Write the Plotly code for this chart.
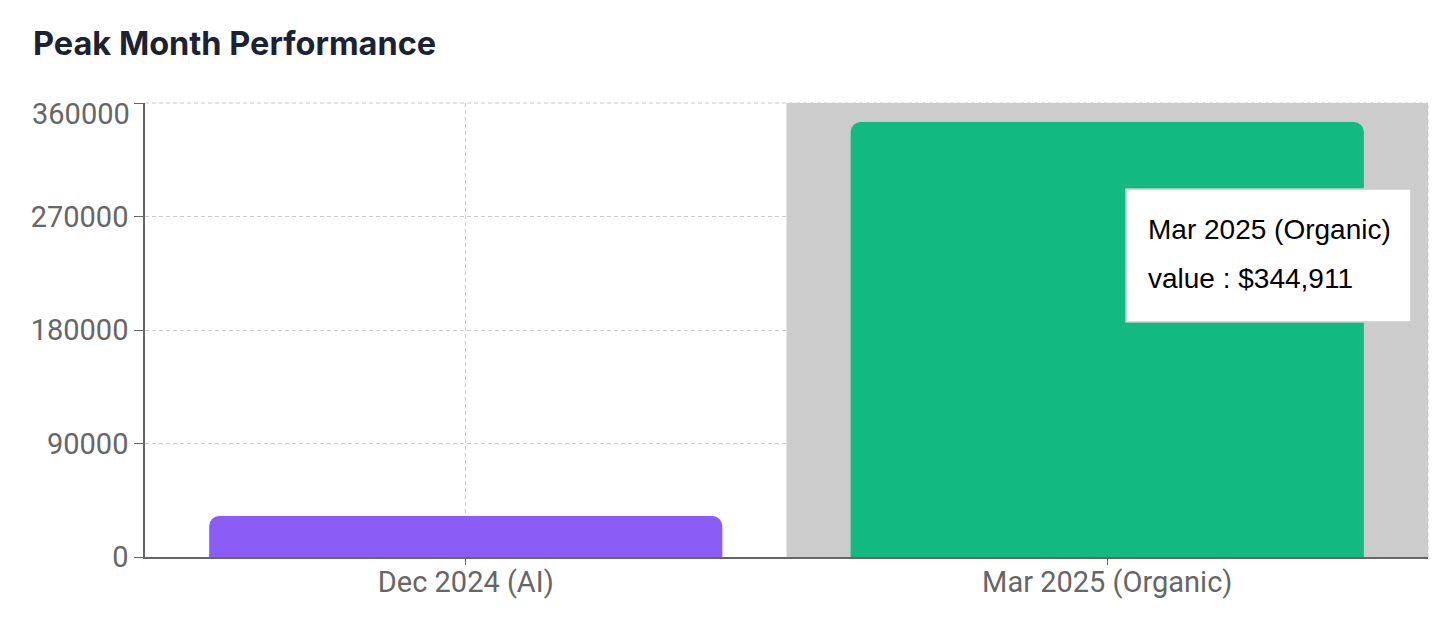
import plotly.graph_objects as go

categories = ["Dec 2024 (AI)", "Mar 2025 (Organic)"]
values = [32500, 344911]
bar_colors = ["#8b5cf6", "#12b981"]
y_ticks = [0, 90000, 180000, 270000, 360000]
title_text = "Peak Month Performance"
highlight_index = 1

# page body has an 8px margin, so the figure is sized to fit 1456x639 exactly
FIG_W, FIG_H = 1440, 623

fig = go.Figure()
fig.add_trace(go.Bar(
    x=categories, y=values,
    marker=dict(color=bar_colors, cornerradius=10, line=dict(width=0)),
    hoverinfo="skip",
))

# hover cursor band behind the highlighted category
fig.add_shape(type="rect", xref="x", yref="y",
              x0=highlight_index - 0.5, x1=highlight_index + 0.5,
              y0=0, y1=y_ticks[-1],
              fillcolor="#cccccc", line=dict(width=0), layer="between")
# dashed top/right border lines
fig.add_shape(type="line", xref="paper", yref="paper", x0=0, x1=1, y0=1, y1=1,
              line=dict(color="#cccccc", width=1, dash="4px,3px"), layer="above")
fig.add_shape(type="line", xref="paper", yref="paper", x0=1, x1=1, y0=0, y1=1,
              line=dict(color="#cccccc", width=1, dash="4px,3px"), layer="above")

# tooltip box
fig.add_shape(type="rect", xref="paper", yref="paper",
              x0=0.7646, x1=0.9867, y0=0.5176, y1=0.8106,
              fillcolor="white", line=dict(color="#cccccc", width=1.5), layer="above")
fig.add_annotation(xref="paper", yref="paper", x=0.7802, y=0.7203,
                   xanchor="left", yanchor="middle", showarrow=False,
                   text=categories[highlight_index],
                   font=dict(family="Liberation Sans, Arial", size=28, color="#000000"))
fig.add_annotation(xref="paper", yref="paper", x=0.7802, y=0.6145,
                   xanchor="left", yanchor="middle", showarrow=False,
                   text=f"value : ${values[highlight_index]:,}",
                   font=dict(family="Liberation Sans, Arial", size=28, color="#000000"))

# top tick label is nudged down inside the chart (as in the reference)
tick_text = [str(v) for v in y_ticks]
top_label = tick_text[-1]
tick_text[-1] = ""
fig.add_annotation(xref="paper", yref="y", x=0, y=y_ticks[-1],
                   xanchor="right", yanchor="middle", showarrow=False,
                   xshift=-13, yshift=-11, text=top_label,
                   font=dict(family="Roboto", size=29, color="#666666"))

fig.update_layout(
    width=FIG_W, height=FIG_H,
    paper_bgcolor="white", plot_bgcolor="white",
    margin=dict(l=137, r=20, t=95, b=74),
    bargap=0.2,
    showlegend=False,
    title=dict(text=f"<b>{title_text}</b>", xref="container", yref="container",
               x=25 / FIG_W, xanchor="left", y=1 - 36 / FIG_H, yanchor="middle",
               font=dict(family="Inter, Noto Sans", size=32.5, color="#1a2233")),
    xaxis=dict(
        type="category", range=[-0.5, 1.5],
        showgrid=True, gridcolor="#cccccc", griddash="4px,3px", gridwidth=1,
        showline=True, linecolor="#666666", linewidth=1.5,
        ticks="outside", ticklen=6, tickcolor="#666666", tickwidth=1,
        ticklabelstandoff=-8,
        tickfont=dict(family="Roboto", size=29, color="#666666"),
        zeroline=False,
    ),
    yaxis=dict(
        range=[0, y_ticks[-1]], tickvals=y_ticks, ticktext=tick_text,
        showgrid=True, gridcolor="#cccccc", griddash="4px,3px", gridwidth=1,
        showline=True, linecolor="#666666", linewidth=1.5,
        ticks="outside", ticklen=9, tickcolor="#666666", tickwidth=1,
        tickfont=dict(family="Roboto", size=29, color="#666666"),
        zeroline=False,
    ),
)

fig.write_html("out.html")
